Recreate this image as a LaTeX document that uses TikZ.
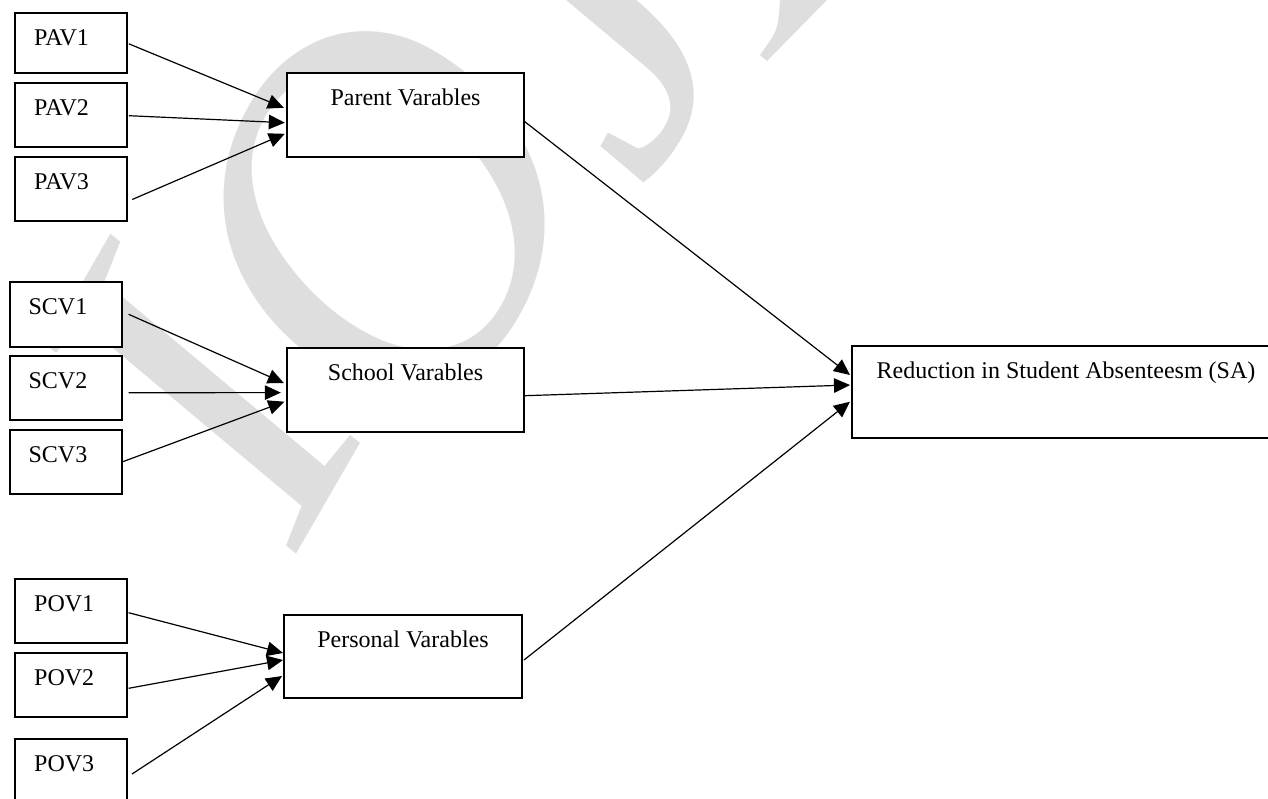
\documentclass[tikz,border=0pt]{standalone}
\usepackage{fontspec}
\setmainfont{Liberation Serif}
\usetikzlibrary{arrows.meta,calc}
\definecolor{wmgray}{RGB}{222,222,222}
\begin{document}
\begin{tikzpicture}[x=1pt,y=-1pt,
  wm/.style={text=wmgray, inner sep=0pt, font=\fontsize{490}{490}\selectfont\itshape, rotate=60},
  box/.style={draw, fill=white, line width=1.8pt, inner sep=0pt, outer sep=0pt,
    anchor=north west, text height=32.5pt, font=\fontsize{24}{28}\selectfont},
  small/.style={box, inner xsep=19pt, text width=74pt, align=left, text depth=#1},
  arr/.style={line width=1.2pt, -{Triangle[length=16pt,width=14.5pt]}}]
\useasboundingbox (0,0) rectangle (1268,798);
\clip (0,0) rectangle (1268,798);
% watermark
\node[wm, anchor=base] (wI) at (338,482) {I};
\node[wm, anchor=center, font=\fontsize{505}{505}\selectfont\itshape] (wO) at (381,217) {O};
\node[wm, anchor=base] (wJ) at (700,98) {J};
\fill[wmgray] (780,0) -- (827,0) -- (767,61) -- (760,55) .. controls (778,30) .. (780,0);
% small boxes
\node[small=26.9pt] (pav1) at (15.2,13.3) {PAV1};
\node[small=30.9pt] (pav2) at (15.2,83.3) {PAV2};
\node[small=31.2pt] (pav3) at (15.2,157.3) {PAV3};
\node[small=31.9pt] (scv1) at (9.6,282.3) {SCV1};
\node[small=31.5pt] (scv2) at (9.6,356) {SCV2};
\node[small=31.5pt] (scv3) at (9.6,430) {SCV3};
\node[small=31.5pt] (pov1) at (15.2,579.3) {POV1};
\node[small=31.5pt] (pov2) at (15.2,653.3) {POV2};
\node[small=31.5pt] (pov3) at (15.2,739.3) {POV3};
% big boxes
\node[box, minimum width=237.5pt, text depth=51.5pt] (parent) at (286.8,73.3) {Parent Varables};
\node[box, minimum width=237.5pt, text depth=52pt] (school) at (286.8,347.7) {School Varables};
\node[box, minimum width=238pt, text depth=50.8pt] (personal) at (284,615) {Personal Varables};
\node[box, minimum width=428pt, text depth=60.1pt] (red) at (852,345.7) {Reduction in Student Absenteesm (SA)};
% arrows
\draw[arr] ($(pav1.north east)+(1.6,30.5)$) -- ($(parent.north west)+(-3,34.5)$);
\draw[arr] ($(pav2.north east)+(1.6,32.4)$) -- ($(parent.north west)+(-2,49.4)$);
\draw[arr] ($(pav3.north east)+(5,42.2)$) -- ($(parent.north west)+(-2,60.5)$);
\draw[arr] ($(scv1.north east)+(7,32)$) -- ($(school.north west)+(-3,35.3)$);
\draw[arr] ($(scv2.north east)+(7,36.7)$) -- ($(school.north west)+(-6,44.9)$);
\draw[arr] ($(scv3.north east)+(1.2,31.7)$) -- ($(school.north west)+(-2.5,54)$);
\draw[arr] ($(pov1.north east)+(1.4,33.4)$) -- ($(personal.north west)+(-1,38)$);
\draw[arr] ($(pov2.north east)+(1.4,35)$) -- ($(personal.north west)+(-1,45)$);
\draw[arr] ($(pov3.north east)+(4.8,34.7)$) -- ($(personal.north west)+(-2,61)$);
\draw[arr] ($(parent.north east)+(0.5,48.4)$) -- ($(red.north west)+(-2,29.3)$);
\draw[arr] ($(school.north east)+(0.5,48)$) -- ($(red.north west)+(-2,39.3)$);
\draw[arr] ($(personal.north east)+(2,45)$) -- ($(red.north west)+(-2,56)$);
\end{tikzpicture}
\end{document}
